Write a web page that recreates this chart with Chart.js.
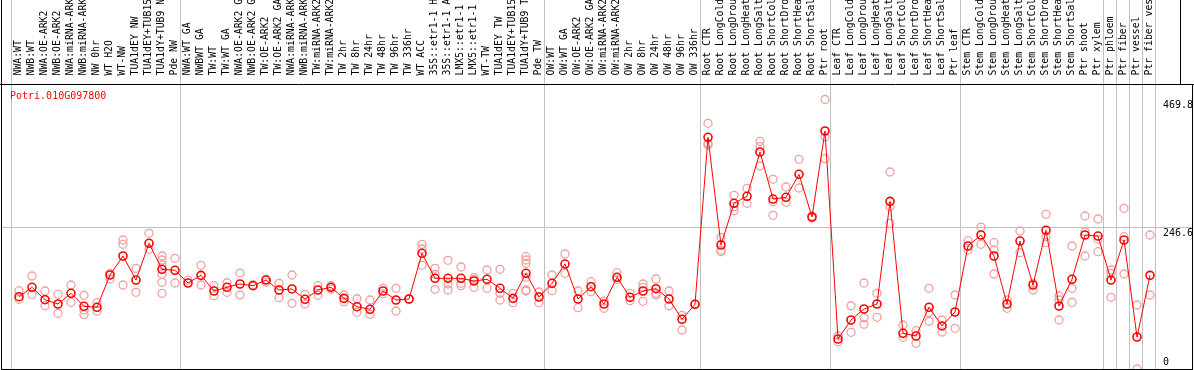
<!DOCTYPE html>
<html><head><meta charset="utf-8">
<script src="https://cdn.jsdelivr.net/npm/chart.js@4/dist/chart.umd.min.js"></script>
<style>
html,body{margin:0;padding:0;background:#fff;}
#wrap{position:relative;width:1194px;height:370px;overflow:hidden;}
#gene{position:absolute;left:10px;top:90px;font:10px "DejaVu Sans Mono",monospace;color:#ff0000;line-height:12px;white-space:nowrap;}
</style></head><body>
<div id="wrap"><canvas id="c" width="1194" height="370"></canvas><div id="gene">Potri.010G097800</div></div>
<script>
const categories = [
"NWA:WT","NWB:WT","NWA:OE-ARK2","NWB:OE-ARK2","NWA:miRNA-ARK2","NWB:miRNA-ARK2","NW 0hr","WT H2O","WT-NW","TUA1dEY NW","TUA1dEY+TUB15 NW","TUA1dY+TUB9 NW","Pde NW",
"NWA:WT GA","NWBWT GA","TW:WT","TW:WT GA","NWA:OE-ARK2 GA","NWB:OE-ARK2 GA","TW:OE-ARK2","TW:OE-ARK2 GA","NWA:miRNA-ARK2 GA","NWB:miRNA-ARK2 GA","TW:miRNA-ARK2","TW:miRNA-ARK2 GA","TW 2hr","TW 8hr","TW 24hr","TW 48hr","TW 96hr","TW 336hr","WT ACC","35S::etr1-1 H2O","35S::etr1-1 ACC","LMX5::etr1-1 H2O","LMX5::etr1-1 ACC","WT-TW","TUA1dEY TW","TUA1dEY+TUB15 TW","TUA1dY+TUB9 TW","Pde TW",
"OW:WT","OW:WT GA","OW:OE-ARK2","OW:OE-ARK2 GA","OW:miRNA-ARK2","OW:miRNA-ARK2 GA","OW 2hr","OW 8hr","OW 24hr","OW 48hr","OW 96hr","OW 336hr",
"Root CTR","Root LongCold","Root LongDrought","Root LongHeat","Root LongSalt","Root ShortCold","Root ShortDrought","Root ShortHeat","Root ShortSalt","Ptr root",
"Leaf CTR","Leaf LongCold","Leaf LongDrought","Leaf LongHeat","Leaf LongSalt","Leaf ShortCold","Leaf ShortDrought","Leaf ShortHeat","Leaf ShortSalt","Ptr leaf",
"Stem CTR","Stem LongCold","Stem LongDrought","Stem LongHeat","Stem LongSalt","Stem ShortCold","Stem ShortDrought","Stem ShortHeat","Stem ShortSalt","Ptr shoot","Ptr xylem",
"Ptr phloem","Ptr fiber","Ptr vessel","Ptr fiber vessel"
];
const means = [
126.0,142.4,120.8,113.3,132.0,109.3,107.6,163.9,197.0,155.1,219.1,173.8,172.1,
149.9,163.3,136.0,142.4,148.2,145.2,155.1,137.7,139.5,121.5,137.7,142.4,123.2,108.6,104.1,136.0,120.3,122.0,201.7,158.1,158.1,158.1,153.4,156.4,140.7,123.2,166.8,125.5,
149.4,183.0,122.0,143.5,113.3,159.9,125.0,136.0,140.0,122.0,86.6,112.8,
403.9,216.2,288.9,301.1,378.3,296.3,299.3,339.4,265.0,414.9,
52.3,85.4,104.6,113.3,292.3,62.2,57.5,107.6,75.0,99.4,
214.4,233.6,197.0,113.3,223.1,146.4,241.8,109.8,156.4,233.6,231.8,
155.1,224.9,55.8,163.3
];
const replicates = [
[136.5,121.5],[162.1,130.2],[136.0,110.3],[130.2,97.1],[146.4,116.3],[128.5,102.9,94.7],[115.6,101.1],[166.8,156.9],[224.9,217.4,146.4],[175.5,133.7],[236.6,208.7],[197.0,190.0,181.3,165.1,151.1,132.0],[193.0,149.9],
[155.1],[180.8,146.4],[145.2,127.8],[150.4,133.7],[167.3,129.0],[145.2,147.0],[156.4,151.1],[149.4,124.3],[163.9,114.5],[130.2,113.3],[145.2,128.5],[145.2,139.5],[129.0,117.3],[122.5,98.8],[120.3,95.4],[140.7,131.3],[140.7,101.1],[122.0,122.0],[217.4,209.2,180.8],[175.5,165.1,138.9],[189.5,148.2,137.7],[177.8,149.4,145.2],[159.2,156.4,142.4],[172.6,140.7],[173.8,132.0,120.3],[132.0,115.6],[195.8,190.0,184.3,159.9,137.7,136.0],[134.2,115.6],
[163.9,136.5],[200.5,166.8],[136.0,106.9],[152.2,134.7],[118.5,105.8],[167.9,156.4],[132.0,119.1],[148.2,142.4,118.0],[156.9,132.0,129.0],[136.0,110.3],[93.6,68.0],[112.8,112.8],
[428.3,393.4,390.5],[229.6,207.4,204.5],[302.8,282.9,275.9],[315.0,288.9],[396.9,387.5,353.9],[330.7,291.6,267.9],[317.3,290.6],[365.6,315.5],[266.7,263.7],[469.8,404.9,366.6],
[57.5,47.6],[110.3,64.0],[149.9,89.4,77.9],[132.0,90.1],[343.4,282.9,254.0],[76.7,55.3],[66.8,44.8],[140.7,98.8,83.2],[85.4,64.5],[129.0,70.9],
[223.7,207.4],[247.5,217.4],[220.2,207.4,165.6],[120.3,105.8],[240.6,202.7],[149.4,137.7],[269.7,230.6,220.2],[127.3,120.3,85.4],[214.4,140.7,116.3],[266.7,239.3,197.0],[261.5,226.1,204.5],
[172.6,166.8,125.0],[280.1,230.6,165.6],[111.6,0],[233.6,129.0]
];
const yTickValues = [246.6, 469.8];
const yZeroTick = [0];
const groupStarts = [0, 13, 41, 53, 63, 73, 84, 85, 86, 87, 88];

const MONO = '"DejaVu Sans Mono", monospace';
const X_MIN = -18/13, X_MAX = 1173/13;
const Y_MAX = 495.1;

const meanPts = means.map((v, i) => ({x: i, y: v}));
const repPts = [];
replicates.forEach((arr, i) => arr.forEach(v => repPts.push({x: i, y: v})));

const noPad = s => { s.paddingLeft = 0; s.paddingRight = 0; s.paddingTop = 0; s.paddingBottom = 0; };

const framePlugin = {
  id: 'frame',
  afterDraw(chart) {
    const {ctx, chartArea: a} = chart;
    ctx.save();
    ctx.strokeStyle = '#000';
    ctx.lineWidth = 1;
    ctx.beginPath();
    ctx.moveTo(a.left + 0.5, 0); ctx.lineTo(a.left + 0.5, a.bottom + 1);
    ctx.moveTo(0, a.top - 0.5); ctx.lineTo(chart.width, a.top - 0.5);
    ctx.moveTo(a.left, a.bottom + 0.5); ctx.lineTo(a.right + 1, a.bottom + 0.5);
    ctx.moveTo(a.right + 0.5, a.top); ctx.lineTo(a.right + 0.5, a.bottom + 1);
    ctx.moveTo(1180.5, 0); ctx.lineTo(1180.5, a.top);
    ctx.stroke();
    ctx.restore();
  }
};

new Chart(document.getElementById('c'), {
  type: 'line',
  data: {
    datasets: [
      {
        label: 'mean', data: meanPts, order: 0,
        borderColor: '#ff0000', borderWidth: 1,
        pointRadius: 4, pointBorderWidth: 1.6,
        pointBorderColor: '#ff0000', pointBackgroundColor: 'rgba(0,0,0,0)'
      },
      {
        label: 'replicates', type: 'scatter', data: repPts, order: 1, showLine: false,
        pointRadius: 4, pointBorderWidth: 1.3,
        pointBorderColor: '#f0a0a0', pointBackgroundColor: 'rgba(0,0,0,0)'
      }
    ]
  },
  options: {
    responsive: false, animation: false, devicePixelRatio: 1,
    layout: {autoPadding: false, padding: {left: 1, right: 2, top: 0, bottom: 1}},
    plugins: {legend: {display: false}, tooltip: {enabled: false}, title: {display: false}},
    scales: {
      x: {
        type: 'linear', position: 'top', weight: 1, min: X_MIN, max: X_MAX,
        afterBuildTicks: s => { s.ticks = categories.map((_, i) => ({value: i})); },
        afterFit: s => { s.height = 85; noPad(s); },
        grid: {display: false}, border: {display: false},
        ticks: {autoSkip: false, minRotation: 90, maxRotation: 90, padding: 1.5, labelOffset: 11,
          color: '#000', font: {family: MONO, size: 9.8},
          callback: v => (categories[v] !== undefined ? categories[v] : '')}
      },
      xs: {
        type: 'linear', position: 'top', weight: 0, min: X_MIN, max: X_MAX,
        afterBuildTicks: s => { s.ticks = groupStarts.map(k => ({value: k - 8/13})); },
        afterFit: s => { s.height = 0; noPad(s); },
        grid: {display: true, color: '#c0c0c0', lineWidth: 1, drawTicks: true, tickLength: 85},
        border: {display: false}, ticks: {display: false}
      },
      y: {
        type: 'linear', position: 'right', min: 0, max: Y_MAX,
        afterBuildTicks: s => { s.ticks = yTickValues.map(v => ({value: v})); },
        afterFit: s => { s.width = 0; noPad(s); },
        grid: {drawTicks: false, color: c => (c.tick && c.tick.value === 246.6 ? '#c0c0c0' : 'rgba(0,0,0,0)')},
        border: {display: false},
        ticks: {mirror: true, crossAlign: 'far', padding: 1, labelOffset: 6, color: '#000',
          font: {family: MONO, size: 10}, callback: v => String(v)}
      },
      y0: {
        type: 'linear', position: 'right', min: 0, max: Y_MAX,
        afterBuildTicks: s => { s.ticks = yZeroTick.map(v => ({value: v})); },
        afterFit: s => { s.width = 0; noPad(s); },
        grid: {display: false, drawTicks: false}, border: {display: false},
        ticks: {mirror: true, crossAlign: 'far', padding: -23, labelOffset: -7, color: '#000',
          font: {family: MONO, size: 10}, callback: v => String(v)}
      }
    }
  },
  plugins: [framePlugin]
});
</script>
</body></html>
